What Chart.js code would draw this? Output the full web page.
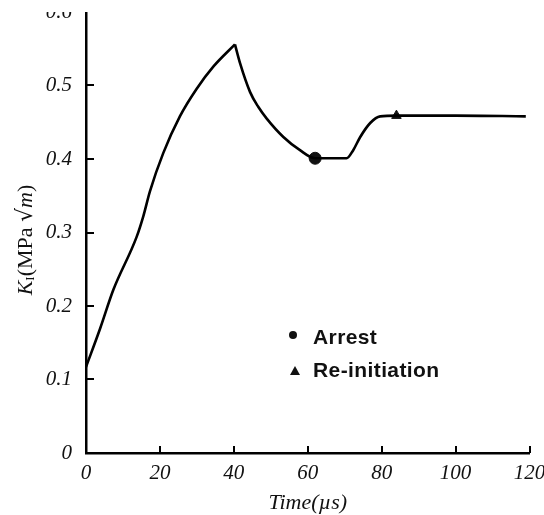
<!DOCTYPE html>
<html>
<head>
<meta charset="utf-8">
<script src="https://cdn.jsdelivr.net/npm/chart.js@4.4.0/dist/chart.umd.min.js"></script>
<style>
  html, body { margin: 0; padding: 0; background: #fff; overflow: hidden; width: 544px; height: 515px; }
  #wrap { position: absolute; left: 0; top: 12px; width: 544px; height: 503px; }
</style>
</head>
<body>
<div id="wrap"><canvas id="c" width="544" height="503"></canvas></div>
<script>
// ---- data ----
const riseTime = [0, 3.8, 7.4, 13.7, 15.5, 17.3, 20.9, 25.4, 30, 34.5, 40.3];
const riseK    = [0.117, 0.169, 0.222, 0.294, 0.322, 0.356, 0.408, 0.458, 0.496, 0.526, 0.556];

const afterTime = [40.3, 41.7, 44.4, 46.6, 48.9, 53.4, 57.9, 62, 66, 70.5, 72.3, 74.2, 76.9, 79.6, 84, 100, 119];
const afterK    = [0.556, 0.530, 0.491, 0.471, 0.455, 0.430, 0.412, 0.401, 0.401, 0.401, 0.412, 0.430, 0.449, 0.458, 0.459, 0.459, 0.458];

const arrestTime = [62];
const arrestK    = [0.401];
const reinitTime = [84];
const reinitK    = [0.459];

const xTickValues = [0, 20, 40, 60, 80, 100, 120];
const xTickLabels = ['0', '20', '40', '60', '80', '100', '120'];
const yTickValues = [0, 0.1, 0.2, 0.3, 0.4, 0.5, 0.6];
const yTickLabels = ['0', '0.1', '0.2', '0.3', '0.4', '0.5', '0.6'];

const legendLabels = ['Arrest', 'Re-initiation'];
const xTitle = 'Time(\u00b5s)';

const toXY = (xs, ys) => xs.map((x, i) => ({ x: x, y: ys[i] }));

// inward tick marks drawn at the scales' own tick positions
const innerTicks = {
  id: 'innerTicks',
  afterDraw(chart) {
    const ctx = chart.ctx, a = chart.chartArea;
    const xs = chart.scales.x, ys = chart.scales.y;
    ctx.save();
    ctx.strokeStyle = '#000';
    ctx.lineWidth = 2;
    xs.ticks.forEach(t => {
      if (t.value === xs.min) return;
      const px = Math.round(xs.getPixelForValue(t.value));
      ctx.beginPath(); ctx.moveTo(px, a.bottom); ctx.lineTo(px, a.bottom - 7); ctx.stroke();
    });
    ys.ticks.forEach(t => {
      if (t.value === ys.min || t.value === ys.max) return;
      const py = Math.round(ys.getPixelForValue(t.value));
      ctx.beginPath(); ctx.moveTo(a.left, py); ctx.lineTo(a.left + 8, py); ctx.stroke();
    });
    ctx.restore();
  }
};

// y axis title with subscript and italic parts
const yTitlePlugin = {
  id: 'yTitle',
  afterDraw(chart) {
    const ctx = chart.ctx, a = chart.chartArea;
    const segs = [
      { t: 'K', f: 'italic 22px "Liberation Serif"', dy: 0 },
      { t: 'I', f: '13px "Liberation Serif"', dy: 5 },
      { t: '(MPa ', f: '22px "Liberation Serif"', dy: 0 },
      { t: '\u221a', f: '22px "DejaVu Serif"', dy: 0 },
      { t: 'm', f: 'italic 22px "Liberation Serif"', dy: 0 },
      { t: ')', f: '22px "Liberation Serif"', dy: 0 }
    ];
    ctx.save();
    let total = 0;
    segs.forEach(s => { ctx.font = s.f; s.w = ctx.measureText(s.t).width; total += s.w; });
    const cx = 26, cy = a.top + 228;
    ctx.translate(cx, cy);
    ctx.rotate(-Math.PI / 2);
    ctx.fillStyle = '#111';
    ctx.textBaseline = 'middle';
    ctx.textAlign = 'left';
    let x = -total / 2;
    segs.forEach(s => { ctx.font = s.f; ctx.fillText(s.t, x, s.dy); x += s.w; });
    ctx.restore();
  }
};

// legend inside the plot
const legendPlugin = {
  id: 'innerLegend',
  afterDraw(chart) {
    const ctx = chart.ctx, a = chart.chartArea;
    const lx = a.left + 207, ty = a.top + 326;
    ctx.save();
    ctx.fillStyle = '#111';
    ctx.beginPath(); ctx.arc(lx, ty - 3, 4, 0, Math.PI * 2); ctx.fill();
    const ty2 = ty + 33;
    ctx.beginPath();
    ctx.moveTo(lx + 2, ty2 - 5); ctx.lineTo(lx + 7, ty2 + 4); ctx.lineTo(lx - 3, ty2 + 4); ctx.closePath(); ctx.fill();
    ctx.font = 'bold 21px "Liberation Sans"';
    try { ctx.letterSpacing = '0.4px'; } catch (e) {}
    ctx.textBaseline = 'middle';
    ctx.textAlign = 'left';
    ctx.fillText(legendLabels[0], lx + 20, ty);
    ctx.fillText(legendLabels[1], lx + 20, ty2);
    ctx.restore();
  }
};

new Chart(document.getElementById('c'), {
  type: 'line',
  data: {
    datasets: [
      { label: 'rise', data: toXY(riseTime, riseK), borderColor: '#000', borderWidth: 2.6,
        pointRadius: 0, cubicInterpolationMode: 'monotone', fill: false },
      { label: 'after', data: toXY(afterTime, afterK), borderColor: '#000', borderWidth: 2.6,
        pointRadius: 0, cubicInterpolationMode: 'monotone', fill: false },
      { label: legendLabels[0], data: toXY(arrestTime, arrestK), showLine: false,
        pointStyle: 'circle', pointRadius: 6, pointBackgroundColor: '#111', pointBorderColor: '#111' },
      { label: legendLabels[1], data: toXY(reinitTime, reinitK), showLine: false,
        pointStyle: 'triangle', pointRadius: 5.5, pointBackgroundColor: '#111', pointBorderColor: '#111' }
    ]
  },
  options: {
    responsive: false,
    animation: false,
    devicePixelRatio: 1,
    layout: { autoPadding: false, padding: { top: 0, left: 0, right: 14.5, bottom: 0 } },
    plugins: { legend: { display: false }, tooltip: { enabled: false } },
    scales: {
      x: {
        type: 'linear', min: 0, max: 120,
        afterBuildTicks: s => { s.ticks = xTickValues.map(v => ({ value: v })); },
        afterFit: s => { s.height = 62; s.paddingLeft = 0; s.paddingRight = 0; },
        grid: { drawOnChartArea: false, drawTicks: false },
        border: { color: '#000', width: 2.5 },
        ticks: {
          padding: 8, color: '#111', maxRotation: 0,
          font: { family: '"Liberation Serif"', style: 'italic', size: 21 },
          callback: (v, i) => xTickLabels[i]
        },
        title: {
          display: true, text: xTitle, color: '#111',
          font: { family: '"Liberation Serif"', style: 'italic', size: 22, lineHeight: 1 },
          padding: { top: 0, bottom: 1 }
        }
      },
      y: {
        type: 'linear', min: 0, max: 0.6,
        afterBuildTicks: s => { s.ticks = yTickValues.map(v => ({ value: v })); },
        afterFit: s => { s.width = 86; s.paddingTop = 0; s.paddingBottom = 0; },
        grid: { drawOnChartArea: false, drawTicks: false },
        border: { color: '#000', width: 2.5 },
        ticks: {
          padding: 14, color: '#111',
          font: { family: '"Liberation Serif"', style: 'italic', size: 21 },
          callback: (v, i) => yTickLabels[i]
        }
      }
    }
  },
  plugins: [innerTicks, yTitlePlugin, legendPlugin]
});
</script>
</body>
</html>
